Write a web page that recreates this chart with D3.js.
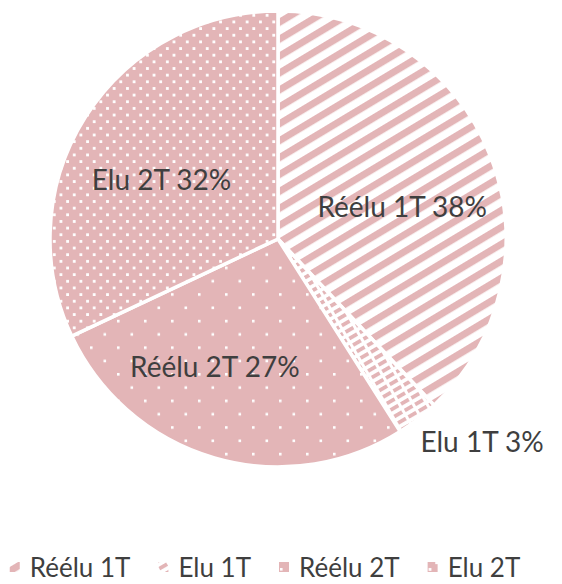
<!DOCTYPE html>
<html>
<head>
<meta charset="utf-8">
<script src="https://cdn.jsdelivr.net/npm/d3@7"></script>
<style>
  html, body { margin: 0; padding: 0; background: #fff; }
  svg { display: block; }
  text { font-family: Lato, "Open Sans", sans-serif; fill: #3f3f3f; }
</style>
</head>
<body>
<svg id="chart" width="562" height="584"></svg>
<script>
// ====== DATA ======
const categories = ['Réélu 1T', 'Elu 1T', 'Réélu 2T', 'Elu 2T'];
const shares = [38, 3, 27, 32];
const labels = ['Réélu 1T 38%', 'Elu 1T 3%', 'Réélu 2T 27%', 'Elu 2T 32%'];

// ====== SETUP ======
const width = 562, height = 584;
const cx = 278, cy = 239, radius = 228;
const pink = '#e3b5b7';

const svg = d3.select('#chart');
const defs = svg.append('defs');

// wide upward diagonal stripes
const pStripe = defs.append('pattern')
  .attr('id', 'p0').attr('patternUnits', 'userSpaceOnUse')
  .attr('width', 10).attr('height', 14.5)
  .attr('patternTransform', 'rotate(-31)');
pStripe.append('rect').attr('width', 10).attr('height', 14.5).attr('fill', '#fff');
pStripe.append('rect').attr('y', 0).attr('width', 10).attr('height', 7).attr('fill', pink);

// dashed diagonal
const pDash = defs.append('pattern')
  .attr('id', 'p1').attr('patternUnits', 'userSpaceOnUse')
  .attr('width', 12).attr('height', 7.5)
  .attr('patternTransform', 'rotate(-30)');
pDash.append('rect').attr('width', 12).attr('height', 7.5).attr('fill', '#fff');
pDash.append('rect').attr('x', 0).attr('y', 0).attr('width', 9).attr('height', 3.8).attr('fill', pink);

// sparse dots
const pSparse = defs.append('pattern')
  .attr('id', 'p2').attr('patternUnits', 'userSpaceOnUse')
  .attr('width', 27).attr('height', 26.6);
pSparse.append('rect').attr('width', 27).attr('height', 26.6).attr('fill', pink);
pSparse.append('rect').attr('x', 1).attr('y', 1).attr('width', 2.6).attr('height', 2.6).attr('fill', '#fff');
pSparse.append('rect').attr('x', 14.5).attr('y', 14.3).attr('width', 2.6).attr('height', 2.6).attr('fill', '#fff');

// dense dots
const pDense = defs.append('pattern')
  .attr('id', 'p3').attr('patternUnits', 'userSpaceOnUse')
  .attr('width', 13.3).attr('height', 13.3);
pDense.append('rect').attr('width', 13.3).attr('height', 13.3).attr('fill', pink);
pDense.append('rect').attr('x', 1).attr('y', 1).attr('width', 2.8).attr('height', 2.8).attr('fill', '#fff');
pDense.append('rect').attr('x', 7.65).attr('y', 7.65).attr('width', 2.8).attr('height', 2.8).attr('fill', '#fff');

const fills = categories.map((c, i) => `url(#p${i})`);

// ====== PIE ======
const pie = d3.pie().sort(null).value(d => d);
const arcs = pie(shares);
const arc = d3.arc().innerRadius(0).outerRadius(radius);

const g = svg.append('g').attr('transform', `translate(${cx},${cy})`);

g.selectAll('path.slice')
  .data(arcs)
  .enter()
  .append('path')
  .attr('class', 'slice')
  .attr('d', arc)
  .attr('fill', (d, i) => fills[i])
  .attr('stroke', '#fff')
  .attr('stroke-width', 3.5)
  .attr('stroke-linejoin', 'round');

// labels: inside ones on a mid ring, the tiny slice outside
const inArc = d3.arc().innerRadius(radius * 0.6).outerRadius(radius * 0.6);
const outArc = d3.arc().innerRadius(radius * 1.26).outerRadius(radius * 1.26);
const nudge = { 0: [-3, 17], 1: [28, -25], 2: [-25, -4], 3: [-1, 13] };

g.selectAll('text.lbl')
  .data(arcs)
  .enter()
  .append('text')
  .attr('class', 'lbl')
  .attr('transform', (d, i) => {
    const p = (d.data < 5 ? outArc : inArc).centroid(d);
    const n = nudge[i];
    return `translate(${p[0] + n[0]},${p[1] + n[1]})`;
  })
  .attr('text-anchor', 'middle')
  .attr('dominant-baseline', 'central')
  .attr('font-size', 28)
  .text((d, i) => labels[i]);

// ====== LEGEND ======
const legend = svg.append('g').attr('transform', `translate(0, 567)`);
const items = legend.selectAll('g.item')
  .data(categories)
  .enter()
  .append('g')
  .attr('class', 'item');

items.append('rect')
  .attr('x', 0).attr('y', -5)
  .attr('width', 10).attr('height', 10)
  .attr('fill', (d, i) => fills[i]);

items.append('text')
  .attr('x', 20)
  .attr('dominant-baseline', 'central')
  .attr('font-size', 26)
  .text(d => d);

let x = 0;
const offsets = [];
items.each(function() {
  offsets.push(x);
  const w = d3.select(this).select('text').node().getComputedTextLength();
  x += 20 + w + 28;
});
const total = x - 28;
const start = 265 - total / 2;
items.attr('transform', (d, i) => `translate(${start + offsets[i]},0)`);
</script>
</body>
</html>
